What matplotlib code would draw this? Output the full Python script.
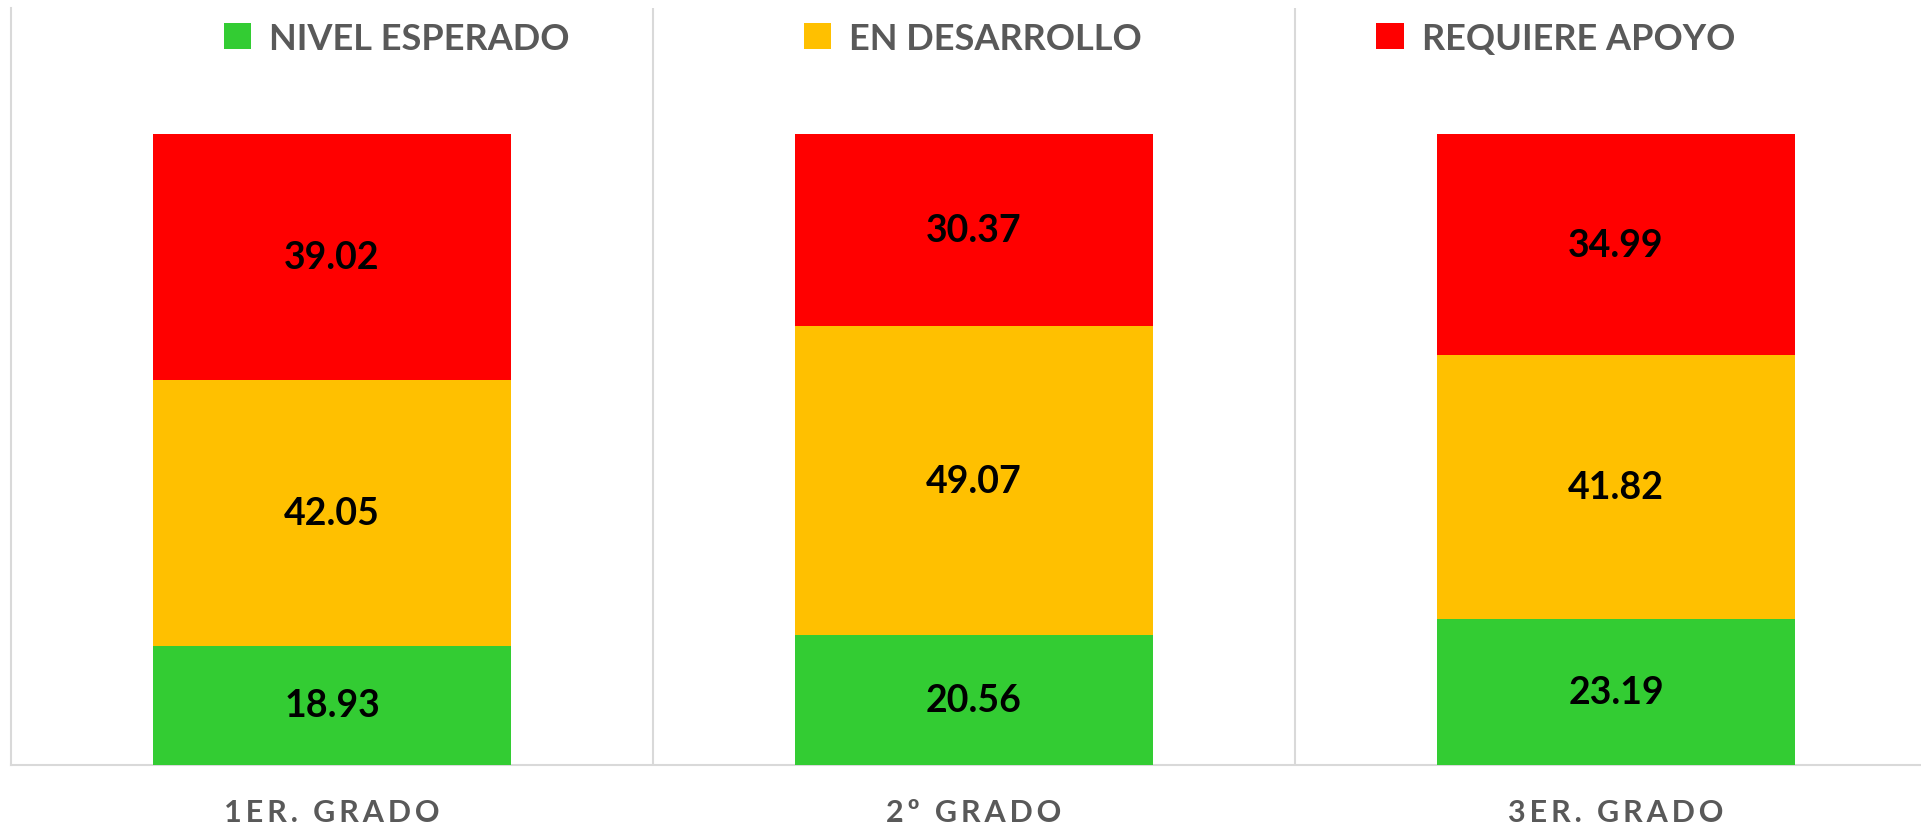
import matplotlib
matplotlib.use("Agg")
import matplotlib.pyplot as plt
import numpy as np

# datos
grados = ["1ER. GRADO", "2º GRADO", "3ER. GRADO"]
niveles = ["NIVEL ESPERADO", "EN DESARROLLO", "REQUIERE APOYO"]
esperado = [18.93, 20.56, 23.19]
desarrollo = [42.05, 49.07, 41.82]
apoyo = [39.02, 30.37, 34.99]
colores = ["#33CC33", "#FFC000", "#FF0000"]

plt.rcParams['font.family'] = ['Lato', 'DejaVu Sans']

fig = plt.figure(figsize=(19.21, 8.29), dpi=100)
ax = fig.add_axes([11/1921, 63/829, 1926/1921, 757/829])

x = np.arange(len(grados))
ancho = 0.557
base = np.zeros(len(grados))
for serie, nombre, color in zip([esperado, desarrollo, apoyo], niveles, colores):
    ax.bar(x, serie, ancho, bottom=base, color=color, label=nombre, zorder=3)
    for xi, v, b0 in zip(x, serie, base):
        ax.text(xi, b0 + v / 2, f"{v:.2f}", ha="center", va="center",
                fontsize=27, fontweight="bold", color="black", zorder=4)
    base = base + np.array(serie)

ax.set_xlim(-0.5, 2.5)
ax.set_ylim(0, 120)
ax.set_yticks([])
ax.set_xticks(x)
# espaciado entre letras con espacio fino
ax.set_xticklabels(["\u2009".join(g) for g in grados],
                   fontsize=22, fontweight="bold", color="#595959")
ax.tick_params(axis="x", length=0, pad=24)
ax.set_xticks([0.5, 1.5], minor=True)
ax.tick_params(axis="x", which="minor", length=0)
ax.grid(axis="x", which="minor", color="#D9D9D9", linewidth=1.5, zorder=0)

for s in ["top", "right"]:
    ax.spines[s].set_visible(False)
for s in ["left", "bottom"]:
    ax.spines[s].set_color("#D9D9D9")
    ax.spines[s].set_linewidth(1.5)

ax.legend(loc="upper left", bbox_to_anchor=(180/1926, 1.025), ncol=3, frameon=False,
          prop={"size": 26, "weight": "bold"}, labelcolor="#595959",
          handlelength=0.75, handleheight=0.75, handletextpad=0.5, columnspacing=6.5)

fig.savefig("out.png", dpi=100)
